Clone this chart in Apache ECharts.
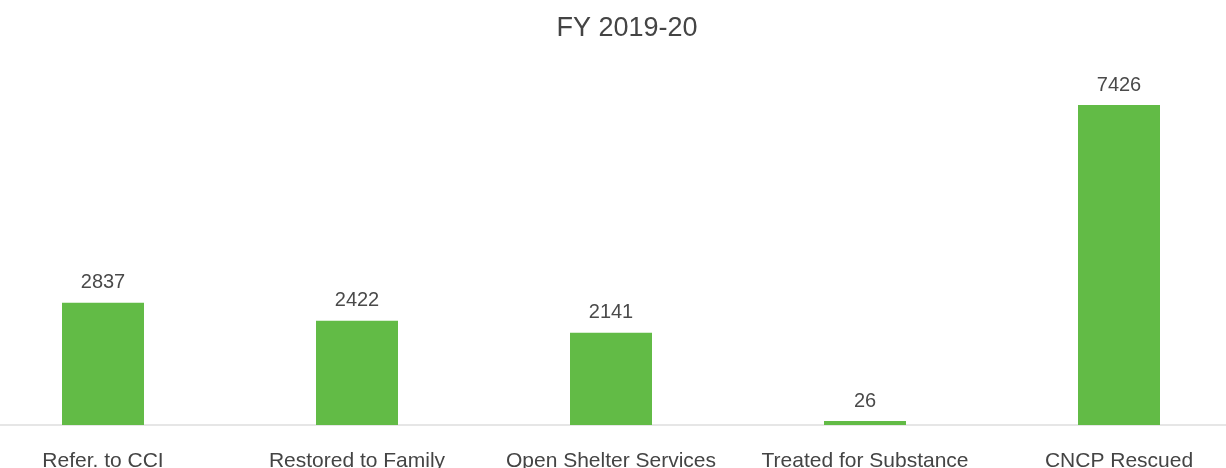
<!DOCTYPE html>
<html>
<head>
<meta charset="utf-8">
<script src="https://cdn.jsdelivr.net/npm/echarts@6/dist/echarts.min.js"></script>
<style>
  html, body { margin: 0; padding: 0; background: #fff; overflow: hidden; }
  #wrap { width: 1226px; height: 468px; position: relative; overflow: hidden; }
  /* plot is wider than the window: bars sit at the original crop's spacing */
  #main { width: 1270px; height: 468px; position: absolute; left: -24px; top: 0; }
</style>
</head>
<body>
<div id="wrap"><div id="main"></div></div>
<script>
var categories = ["Refer. to CCI", "Restored to Family", "Open Shelter Services", "Treated for Substance", "CNCP Rescued"];
var values = [2837, 2422, 2141, 26, 7426];

var myChart = echarts.init(document.getElementById("main"), null, { renderer: "canvas" });
var option = {
  animation: false,
  title: {
    text: "FY 2019-20",
    left: 646,
    textAlign: "center",
    top: 10,
    textStyle: {
      fontFamily: "Liberation Sans",
      fontSize: 27,
      fontWeight: "normal",
      color: "#444"
    }
  },
  grid: {
    left: 0,
    right: 0,
    top: 60,
    bottom: 43,
    containLabel: false,
    outerBoundsMode: "none"
  },
  xAxis: {
    type: "category",
    data: categories,
    axisTick: { show: false },
    axisLine: { lineStyle: { color: "#e6e6e6", width: 2 } },
    axisLabel: {
      interval: 0,
      hideOverlap: false,
      margin: 26,
      fontFamily: "Liberation Sans",
      fontSize: 21,
      color: "#444"
    }
  },
  yAxis: {
    type: "value",
    min: 0,
    max: 8470,
    show: false,
    splitLine: { show: false }
  },
  series: [
    {
      type: "bar",
      data: values,
      barWidth: 82,
      barMinHeight: 4,
      itemStyle: { color: "#62bb46" },
      label: {
        show: true,
        position: "top",
        distance: 10,
        fontFamily: "Liberation Sans",
        fontSize: 20,
        color: "#4a4a4a"
      }
    }
  ]
};
myChart.setOption(option);
</script>
</body>
</html>
